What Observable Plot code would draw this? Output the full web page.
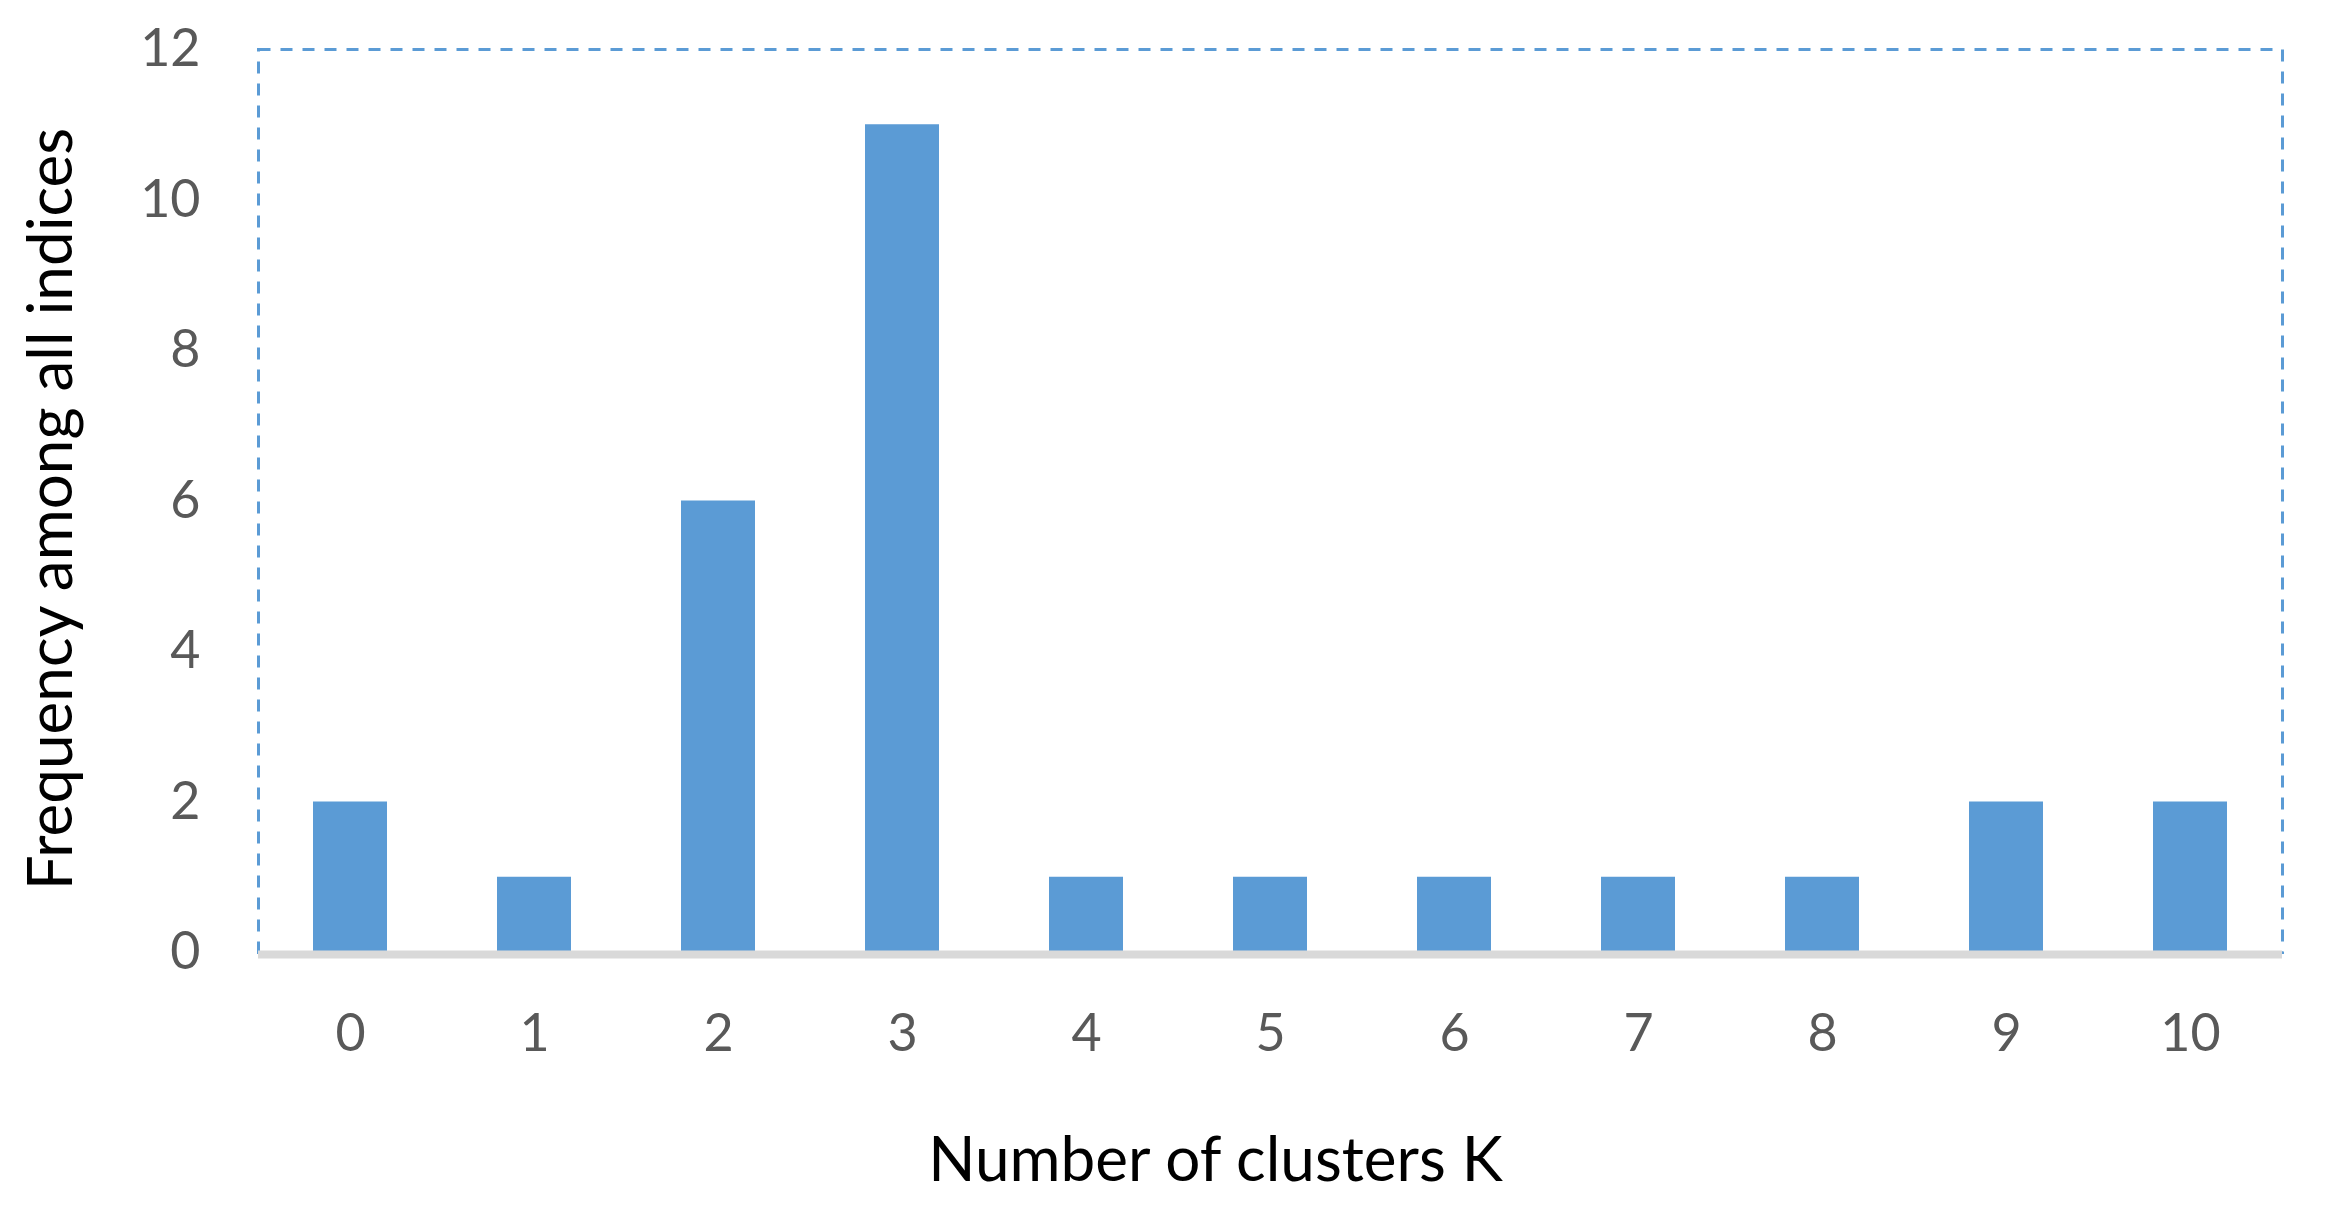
<!DOCTYPE html>
<html>
<head>
<meta charset="utf-8">
<script src="https://cdn.jsdelivr.net/npm/d3@7"></script>
<script src="https://cdn.jsdelivr.net/npm/@observablehq/plot@0.6"></script>
<style>
  html, body { margin: 0; padding: 0; background: #fff; }
  #chart svg { display: block; }
</style>
</head>
<body>
<div id="chart"></div>
<script>
const clusters = ["0","1","2","3","4","5","6","7","8","9","10"];
const frequency = [2, 1, 6, 11, 1, 1, 1, 1, 1, 2, 2];
const yTicks = [0, 2, 4, 6, 8, 10, 12];
const xTitle = "Number of clusters K";
const yTitle = "Frequency among all indices";

const data = clusters.map((k, i) => ({k, freq: frequency[i]}));

const blue = "#5B9BD5";
const font = "Lato, 'Open Sans', sans-serif";

const chart = Plot.plot({
  width: 2328,
  height: 1205,
  marginLeft: 258,
  marginRight: 46,
  marginTop: 49,
  marginBottom: 253,
  style: {fontFamily: font, background: "#fff"},
  x: {domain: clusters, paddingInner: 0.6, paddingOuter: 0.3, label: null},
  y: {domain: [0, 12], label: null},
  marks: [
    Plot.frame({stroke: blue, strokeWidth: 3, strokeDasharray: "12,10"}),
    Plot.barY(data, {x: "k", y: "freq", fill: blue}),
    Plot.ruleY([0], {stroke: "#D9D9D9", strokeWidth: 8, dy: 2}),
    Plot.axisY(yTicks, {tickSize: 0, tickPadding: 58, fontSize: 52, fill: "#595959", label: null, tickFormat: d => String(d)}),
    Plot.axisX({tickSize: 0, tickPadding: 62, fontSize: 52, fill: "#595959", label: null}),
    Plot.text([xTitle], {frameAnchor: "bottom", dy: 209, dx: -55, fontSize: 62, fill: "#000", lineAnchor: "middle", textAnchor: "middle"}),
    Plot.text([yTitle], {frameAnchor: "left", dx: -206, dy: 8, rotate: -90, fontSize: 62, fill: "#000", lineAnchor: "middle", textAnchor: "middle"})
  ]
});
document.getElementById("chart").appendChild(chart);
</script>
</body>
</html>
